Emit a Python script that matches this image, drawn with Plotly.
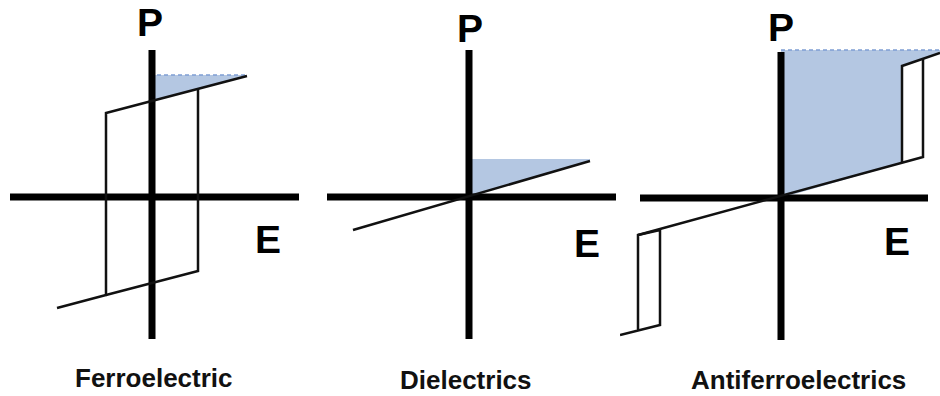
import plotly.graph_objects as go

# ---- data (E, P), 1 unit = 1 px, origin at each panel's axis crossing ----
axis_E = [-142, 147]
axis_P = [147, -142]
axis3_E = [-141, 147]
axis3_P = [146, -142]

# Ferroelectric hysteresis loop
fe_E = [95, -46, -46, -95, None, -46, 46, 46]
fe_P = [121, 84, -98, -111, None, -98, -74, 108]
fe_fill_E = [0, 95, 95, 0]
fe_fill_P = [122, 122, 121, 96]
fe_dash_E = [-2, 93]
fe_dash_P = [122, 122]

# Dielectric linear response
de_E = [-116, 121]
de_P = [-33, 36]
de_fill_E = [0, 121, 121, 0]
de_fill_P = [38, 38, 36, 0]

# Antiferroelectric double loop
afe_E = [-161, -121, -121, -143, -143, None, -143, 142, 142, None, 121, 121, 159]
afe_P = [-137, -127, -32, -37, -132, None, -37, 41, 139, None, 35, 132, 145]
afe_fill_E = [0, 159, 159, 121, 121, 0]
afe_fill_P = [148, 148, 145, 132, 35, 0]
afe_dash_E = [0, 159]
afe_dash_P = [148, 148]

titles = ["Ferroelectric", "Dielectrics", "Antiferroelectrics"]

FILL = "#b4c7e2"
DASH = "#7f9fd3"
BLACK = "#000000"

fig = go.Figure()

def add(x, y, ax, **kw):
    xa = "x" if ax == 1 else f"x{ax}"
    ya = "y" if ax == 1 else f"y{ax}"
    fig.add_trace(go.Scatter(x=x, y=y, xaxis=xa, yaxis=ya, hoverinfo="skip",
                             showlegend=False, **kw))

# fills
add(fe_fill_E, fe_fill_P, 1, mode="lines", fill="toself", fillcolor=FILL, line=dict(width=0))
add(de_fill_E, de_fill_P, 2, mode="lines", fill="toself", fillcolor=FILL, line=dict(width=0))
add(afe_fill_E, afe_fill_P, 3, mode="lines", fill="toself", fillcolor=FILL, line=dict(width=0))
# dashed
add(fe_dash_E, fe_dash_P, 1, mode="lines", line=dict(color=DASH, width=1.3, dash="4px,3px"))
add(afe_dash_E, afe_dash_P, 3, mode="lines", line=dict(color=DASH, width=1.3, dash="4px,3px"))

# axes
for ax, (aE, aP) in zip([1, 2, 3], [(axis_E, axis_P), (axis_E, axis_P), (axis3_E, axis3_P)]):
    add(aE, [0, 0], ax, mode="lines", line=dict(color=BLACK, width=7))
    add([0, 0], aP, ax, mode="lines", line=dict(color=BLACK, width=7))

# curves
add(fe_E, fe_P, 1, mode="lines", line=dict(color="#111111", width=2.5))
add(de_E, de_P, 2, mode="lines", line=dict(color="#111111", width=2.5))
add(afe_E, afe_P, 3, mode="lines", line=dict(color="#111111", width=2.5))

W, H = 940, 396
doms = [(0, 310), (310, 620), (620, 940)]
xr = [[-152, 158], [-159, 151], [-161, 159]]
yr = [[-199, 197], [-199, 197], [-198, 198]]

layout = dict(width=W, height=H, margin=dict(l=0, r=0, t=0, b=0),
              paper_bgcolor="white", plot_bgcolor="white")
for i in range(3):
    sfx = "" if i == 0 else str(i + 1)
    layout["xaxis" + sfx] = dict(domain=[doms[i][0] / W, doms[i][1] / W], range=xr[i],
                                 visible=False, fixedrange=True, anchor="y" + sfx)
    layout["yaxis" + sfx] = dict(domain=[0, 1], range=yr[i], visible=False, fixedrange=True,
                                 anchor="x" + sfx)
fig.update_layout(**layout)

FONT = "Liberation Sans, Arial, sans-serif"
p_pos = [(-2, 175), (1, 169), (0, 171)]
e_pos = [(116, -42), (118, -46), (116, -43)]
t_pos = [(2, -181), (-3, -183), (17, -182)]
for i in range(3):
    sfx = "" if i == 0 else str(i + 1)
    fig.add_annotation(x=p_pos[i][0], y=p_pos[i][1], xref="x" + sfx, yref="y" + sfx,
                       text="<b>P</b>", showarrow=False,
                       font=dict(family=FONT, size=39, color="black"))
    fig.add_annotation(x=e_pos[i][0], y=e_pos[i][1], xref="x" + sfx, yref="y" + sfx,
                       text="<b>E</b>", showarrow=False,
                       font=dict(family=FONT, size=39, color="black"))
    fig.add_annotation(x=t_pos[i][0], y=t_pos[i][1], xref="x" + sfx, yref="y" + sfx,
                       text="<b>" + titles[i] + "</b>", showarrow=False,
                       font=dict(family=FONT, size=26, color="#111111"))

fig.write_html("out.html", config={"displayModeBar": False},
               post_script="document.body.style.margin='0px';document.body.style.overflow='hidden';")
